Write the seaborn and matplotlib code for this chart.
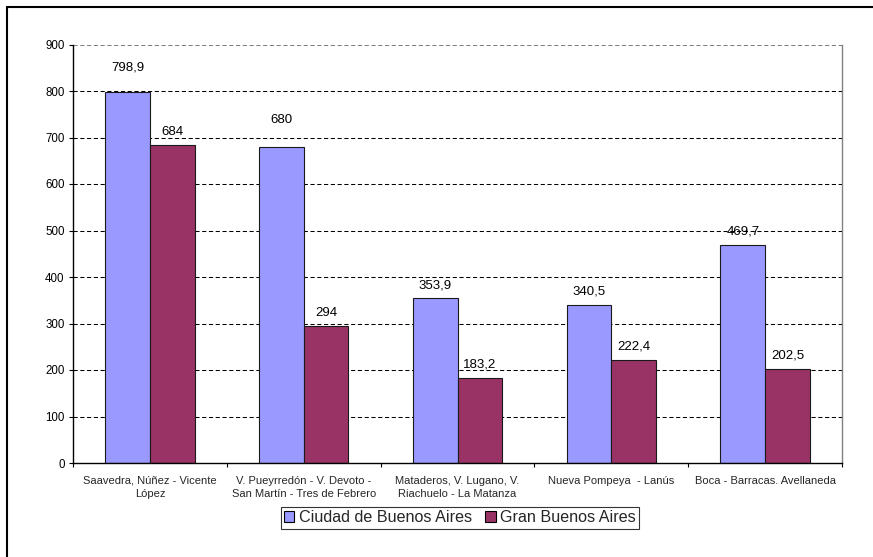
import matplotlib
matplotlib.use("Agg")
import matplotlib.pyplot as plt
from matplotlib.lines import Line2D
import seaborn as sns
import pandas as pd

# Zonas comparadas (barrios de la Ciudad y partidos del conurbano)
categorias = [
    "Saavedra, Núñez - Vicente\nLópez",
    "V. Pueyrredón - V. Devoto -\nSan Martín - Tres de Febrero",
    "Mataderos, V. Lugano, V.\nRiachuelo - La Matanza",
    "Nueva Pompeya  - Lanús",
    "Boca - Barracas. Avellaneda",
]
series = ["Ciudad de Buenos Aires", "Gran Buenos Aires"]
ciudad = [798.9, 680.0, 353.9, 340.5, 469.7]
gba = [684.0, 294.0, 183.2, 222.4, 202.5]
yticks = [0, 100, 200, 300, 400, 500, 600, 700, 800, 900]

df = pd.DataFrame({
    "zona": categorias * 2,
    "serie": [series[0]] * len(categorias) + [series[1]] * len(categorias),
    "valor": ciudad + gba,
})

sns.set_theme(style="white")
plt.rcParams["font.family"] = ["Liberation Sans", "DejaVu Sans"]

fig = plt.figure(figsize=(8.73, 5.57), dpi=100)
ax = fig.add_axes([73 / 873, 1 - 463 / 557, (842 - 73) / 873, (463 - 44.5) / 557])

sns.barplot(
    data=df, x="zona", y="valor", hue="serie", order=categorias,
    hue_order=series, palette=["#9999FF", "#993366"], width=0.58,
    edgecolor="#1a1a1a", linewidth=0.8, saturation=1, ax=ax, zorder=3,
)

# Etiquetas de valor sobre cada barra (coma decimal)
extra = {(0, 0): 8, (0, 1): 10}
for si, cont in enumerate(ax.containers):
    vals = ciudad if si == 0 else gba
    for ci, (bar, v) in enumerate(zip(cont, vals)):
        txt = f"{v:g}".replace(".", ",")
        off = 9.4 + extra.get((si, ci), 0)
        ax.annotate(txt, (bar.get_x() + bar.get_width() / 2, v),
                    xytext=(0, off), textcoords="offset points",
                    ha="center", va="center", fontsize=9.5, color="black")

ax.set_ylim(0, 900)
ax.set_xlim(-0.5, len(categorias) - 0.5)
ax.set_yticks(yticks)
ax.set_yticklabels([str(t) for t in yticks])
ax.tick_params(axis="y", direction="out", length=3, width=0.8, pad=3,
               labelsize=8.3, colors="black", left=True)
ax.set_xticks(range(len(categorias)))
ax.set_xticklabels(categorias, fontsize=8, linespacing=1.45)
ax.tick_params(axis="x", which="major", length=0, pad=9)
ax.set_xticks([i - 0.5 for i in range(len(categorias) + 1)], minor=True)
ax.tick_params(axis="x", which="minor", direction="out", length=3,
               width=0.8, color="black", bottom=True)
ax.set_xlabel("")
ax.set_ylabel("")

# Grilla horizontal punteada
for t in yticks[1:]:
    ax.axhline(t, color="#000000" if t < 900 else "#808080", lw=0.75,
               dashes=(4, 2.5), zorder=1)

for s in ("left", "bottom"):
    ax.spines[s].set_color("black")
    ax.spines[s].set_linewidth(1.0)
ax.spines["top"].set_visible(False)
ax.spines["right"].set_color("#808080")
ax.spines["right"].set_linewidth(1.0)
ax.spines["left"].set_zorder(4)
ax.spines["bottom"].set_zorder(4)

handles, labels = ax.get_legend_handles_labels()
ax.get_legend().remove()
leg = fig.legend(handles, labels, loc="center",
                 bbox_to_anchor=(460 / 873, 1 - 518 / 557), ncol=2,
                 frameon=True, fancybox=False, fontsize=11.6,
                 handlelength=0.65, handleheight=0.65, handletextpad=0.3,
                 columnspacing=0.8, borderpad=0.2, borderaxespad=0)
leg.get_frame().set_edgecolor("black")
leg.get_frame().set_linewidth(0.8)
for h in leg.legend_handles:
    h.set_edgecolor("black")
    h.set_linewidth(0.8)

# Marco exterior del gráfico
fig.add_artist(Line2D([7 / 873, 7 / 873], [0, 1 - 7 / 557], color="black",
                      lw=1.5, transform=fig.transFigure))
fig.add_artist(Line2D([7 / 873, 1], [1 - 7 / 557, 1 - 7 / 557], color="black",
                      lw=1.5, transform=fig.transFigure))

fig.savefig("out.png", dpi=100, facecolor="white")
